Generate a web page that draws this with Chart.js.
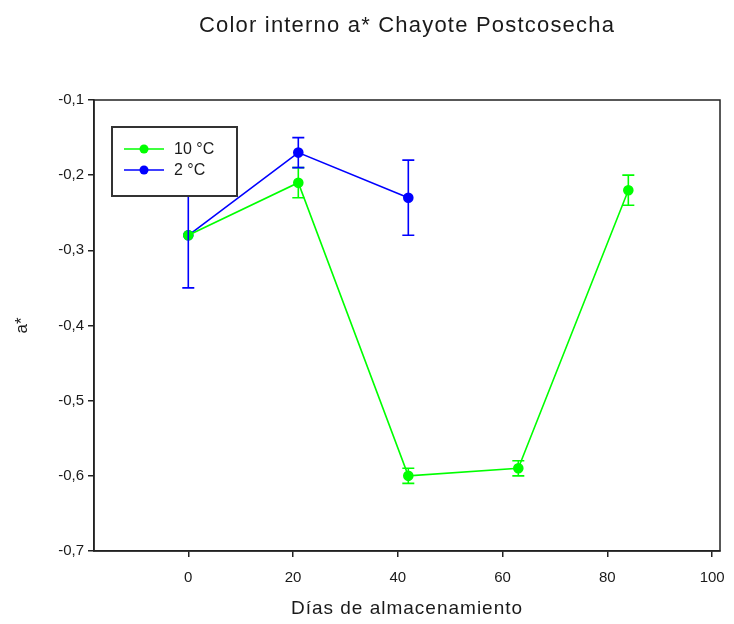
<!DOCTYPE html>
<html>
<head>
<meta charset="utf-8">
<script src="https://cdn.jsdelivr.net/npm/chart.js@4.4.1/dist/chart.umd.min.js"></script>
<style>
  html, body { margin: 0; padding: 0; background: #fff; }
  #wrap { width: 734px; height: 624px; }
</style>
</head>
<body>
<div id="wrap"><canvas id="chart"></canvas></div>
<script>
var chartTitle = 'Color interno a* Chayote Postcosecha';
var xTitle = 'Días de almacenamiento';
var yTitle = 'a*';

var dias10 = [0, 21, 42, 63, 84];
var valores10 = [-0.28, -0.21, -0.60, -0.59, -0.22];
var error10 = [0, 0.02, 0.01, 0.01, 0.02];

var dias2 = [0, 21, 42];
var valores2 = [-0.28, -0.17, -0.23];
var error2 = [0.07, 0.02, 0.05];

var xTicks = [0, 20, 40, 60, 80, 100];
var yTicks = [-0.7, -0.6, -0.5, -0.4, -0.3, -0.2, -0.1];

var fuente = 'Liberation Sans, Arial, sans-serif';
var texto = '#1a1a1a';

function puntos(xs, ys) {
    return xs.map(function(x, i) { return { x: x, y: ys[i] }; });
}

// error bars with caps
var errorBars = {
    id: 'errorBars',
    afterDatasetsDraw: function(chart) {
        var ctx = chart.ctx;
        var y = chart.scales.y;
        chart.data.datasets.forEach(function(ds, di) {
            var meta = chart.getDatasetMeta(di);
            ctx.save();
            ctx.strokeStyle = ds.borderColor;
            ctx.lineWidth = 1.6;
            meta.data.forEach(function(pt, i) {
                var e = ds.errores[i];
                if (!e) return;
                var v = ds.data[i].y;
                var top = y.getPixelForValue(v + e);
                var bot = y.getPixelForValue(v - e);
                ctx.beginPath();
                ctx.moveTo(pt.x, top); ctx.lineTo(pt.x, bot);
                ctx.moveTo(pt.x - 6, top); ctx.lineTo(pt.x + 6, top);
                ctx.moveTo(pt.x - 6, bot); ctx.lineTo(pt.x + 6, bot);
                ctx.stroke();
            });
            ctx.restore();
        });
    }
};

// frame, titles and boxed legend
var marco = {
    id: 'marco',
    afterDraw: function(chart) {
        var ctx = chart.ctx;
        var a = chart.chartArea;
        var cx = (a.left + a.right) / 2;
        ctx.save();
        ctx.strokeStyle = '#222';
        ctx.lineWidth = 1.5;
        ctx.strokeRect(a.left, a.top, a.right - a.left, a.bottom - a.top);

        ctx.fillStyle = texto;
        ctx.textAlign = 'center';
        ctx.textBaseline = 'middle';
        ctx.letterSpacing = '1.2px';
        ctx.font = '22px ' + fuente;
        ctx.fillText(chartTitle, cx, 26);
        ctx.letterSpacing = '1px';
        ctx.font = '19px ' + fuente;
        ctx.fillText(xTitle, cx, 609);
        ctx.letterSpacing = '0px';

        var bx = a.left + 18, by = a.top + 27, bw = 125, bh = 69;
        ctx.fillStyle = '#fff';
        ctx.fillRect(bx, by, bw, bh);
        ctx.strokeStyle = '#333';
        ctx.lineWidth = 2;
        ctx.strokeRect(bx, by, bw, bh);

        ctx.font = '16px ' + fuente;
        ctx.textAlign = 'left';
        chart.data.datasets.forEach(function(ds, i) {
            var ly = by + 22 + i * 21;
            ctx.strokeStyle = ds.borderColor;
            ctx.lineWidth = 1.6;
            ctx.beginPath();
            ctx.moveTo(bx + 12, ly); ctx.lineTo(bx + 52, ly);
            ctx.stroke();
            ctx.fillStyle = ds.borderColor;
            ctx.beginPath();
            ctx.arc(bx + 32, ly, 4.5, 0, Math.PI * 2);
            ctx.fill();
            ctx.fillStyle = texto;
            ctx.fillText(ds.label, bx + 62, ly + 1);
        });
        ctx.restore();
    }
};

new Chart(document.getElementById('chart'), {
    type: 'line',
    data: {
        datasets: [
            {
                label: '10 °C',
                data: puntos(dias10, valores10),
                errores: error10,
                borderColor: '#00ff00',
                backgroundColor: '#00ff00',
                borderWidth: 1.6,
                pointRadius: 4.5,
                tension: 0
            },
            {
                label: '2 °C',
                data: puntos(dias2, valores2),
                errores: error2,
                borderColor: '#0000ff',
                backgroundColor: '#0000ff',
                borderWidth: 1.6,
                pointRadius: 4.5,
                tension: 0
            }
        ]
    },
    options: {
        responsive: true,
        maintainAspectRatio: false,
        animation: false,
        layout: { padding: { top: 100, right: 14, left: 0, bottom: 0 } },
        plugins: {
            legend: { display: false },
            title: { display: false },
            tooltip: { enabled: false }
        },
        scales: {
            x: {
                type: 'linear',
                min: -18,
                max: 101.5,
                afterFit: function(s) { s.height = 73; s.paddingLeft = 0; s.paddingRight = 0; },
                afterBuildTicks: function(s) {
                    s.ticks = xTicks.map(function(v) { return { value: v }; });
                },
                border: { display: true, color: '#222', width: 1.5 },
                grid: { drawOnChartArea: false, drawTicks: true, tickLength: 6, color: '#222', lineWidth: 1.5 },
                ticks: { color: texto, font: { family: fuente, size: 15 }, padding: 12, maxRotation: 0 },
                title: { display: false }
            },
            y: {
                min: -0.7,
                max: -0.1,
                afterFit: function(s) { s.width = 94; s.paddingTop = 0; s.paddingBottom = 0; },
                afterBuildTicks: function(s) {
                    s.ticks = yTicks.map(function(v) { return { value: v }; });
                },
                border: { display: true, color: '#222', width: 1.5 },
                grid: { drawOnChartArea: false, drawTicks: true, tickLength: 6, color: '#222', lineWidth: 1.5 },
                ticks: {
                    color: texto,
                    font: { family: fuente, size: 15 },
                    padding: 4,
                    callback: function(v) { return v.toFixed(1).replace('.', ','); }
                },
                title: { display: true, text: yTitle, color: texto, font: { family: fuente, size: 17 }, padding: { top: 12, bottom: 0 } }
            }
        }
    },
    plugins: [errorBars, marco]
});
</script>
</body>
</html>
